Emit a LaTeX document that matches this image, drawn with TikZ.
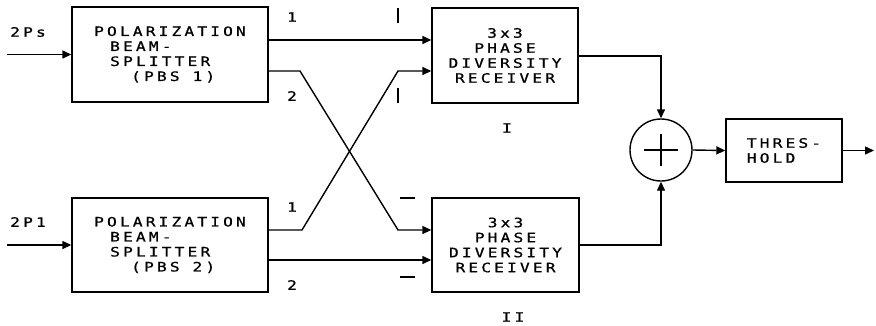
\documentclass[tikz,border=0pt]{standalone}
\usepackage{fontspec}
\newfontfamily\plotfont[FakeStretch=1.25,LetterSpace=24,FakeBold=0.8]{DejaVu Sans Mono}
\usetikzlibrary{arrows.meta,calc}
\begin{document}
\begin{tikzpicture}[x=1pt,y=-1pt,
  every node/.style={font=\plotfont\fontsize{13}{15}\selectfont, inner sep=0pt},
  blk/.style={draw, line width=1.4pt, minimum width=#1, inner sep=0pt},
  wire/.style={line width=1.4pt},
  arr/.style={line width=1.4pt, -{Triangle[length=9pt,width=8pt]}},
  tick/.style={line width=1.4pt}]
\useasboundingbox (0,0) rectangle (876,325);
% boxes
\node[blk=196pt, minimum height=95pt, align=left] (pbs1) at (170,54.5)
  {POLARIZATION\\\hspace*{16pt}BEAM-\\\hspace*{16pt}SPLITTER\\\hspace*{37pt}(PBS 1)};
\node[blk=196pt, minimum height=94pt, align=left] (pbs2) at (170,245)
  {POLARIZATION\\\hspace*{16pt}BEAM-\\\hspace*{16pt}SPLITTER\\\hspace*{37pt}(PBS 2)};
\node[blk=146pt, minimum height=95pt, align=center] (rx1) at (505,55.5)
  {3x3\\PHASE\\DIVERSITY\\RECEIVER};
\node[blk=147pt, minimum height=94pt, align=center] (rx2) at (505.5,245)
  {3x3\\PHASE\\DIVERSITY\\RECEIVER};
\node[draw, circle, line width=1.4pt, minimum size=62pt] (sum) at (661,150) {};
\node[blk=116pt, minimum height=63pt, align=left] (thr) at (784,150.5)
  {THRES-\\HOLD};
% labels
\node (lps) at (28,32) {2Ps};
\node (lpl) at (28,222) {2P1};
\node (l11) at (292,17) {1};
\node (l12) at (292,96) {2};
\node (l21) at (292,207) {1};
\node (l22) at (292,285) {2};
\node (lI) at (507,128) {I};
\node (lII) at (513,317) {II};
% coordinates
\coordinate (in1) at (7,54.5);
\coordinate (in2) at (7,245);
\coordinate (out) at (874,150.5);
\coordinate (a1) at (300,71);
\coordinate (b1) at (398,230);
\coordinate (a2) at (302,230);
\coordinate (b2) at (398,71);
\coordinate (s1) at (661,56);
\coordinate (s2) at (661,245);
% inputs
\draw[arr] (in1) -- (pbs1.west);
\draw[arr] (in2) -- (pbs2.west);
% PBS1 outputs
\draw[arr] ($(pbs1.east)+(0,-14.5)$) -- ($(rx1.west)+(0,-15.5)$);
\draw[arr] ($(pbs1.east)+(0,16.5)$) -- (a1) -- (b1) -- ($(rx2.west)+(0,-15)$);
% PBS2 outputs
\draw[arr] ($(pbs2.east)+(0,-15)$) -- (a2) -- (b2) -- ($(rx1.west)+(0,15.5)$);
\draw[arr] ($(pbs2.east)+(0,15)$) -- ($(rx2.west)+(0,15)$);
% receivers to sum
\draw[arr] (rx1.east |- s1) -- (s1) -- (sum.north);
\draw[arr] (rx2.east |- s2) -- (s2) -- (sum.south);
\draw[arr] (sum.east) -- (thr.west);
\draw[arr] (thr.east) -- (out);
% cross in sum
\draw[wire] ($(sum.center)+(-17,0)$) -- ($(sum.center)+(17,0)$);
\draw[wire] ($(sum.center)+(0,-16)$) -- ($(sum.center)+(0,16)$);
% polarization ticks
\draw[tick] (398,8) -- (398,23);
\draw[tick] (398,88) -- (398,103);
\draw[tick] (400,198) -- (415,198);
\draw[tick] (400,277) -- (415,277);
\end{tikzpicture}
\end{document}
